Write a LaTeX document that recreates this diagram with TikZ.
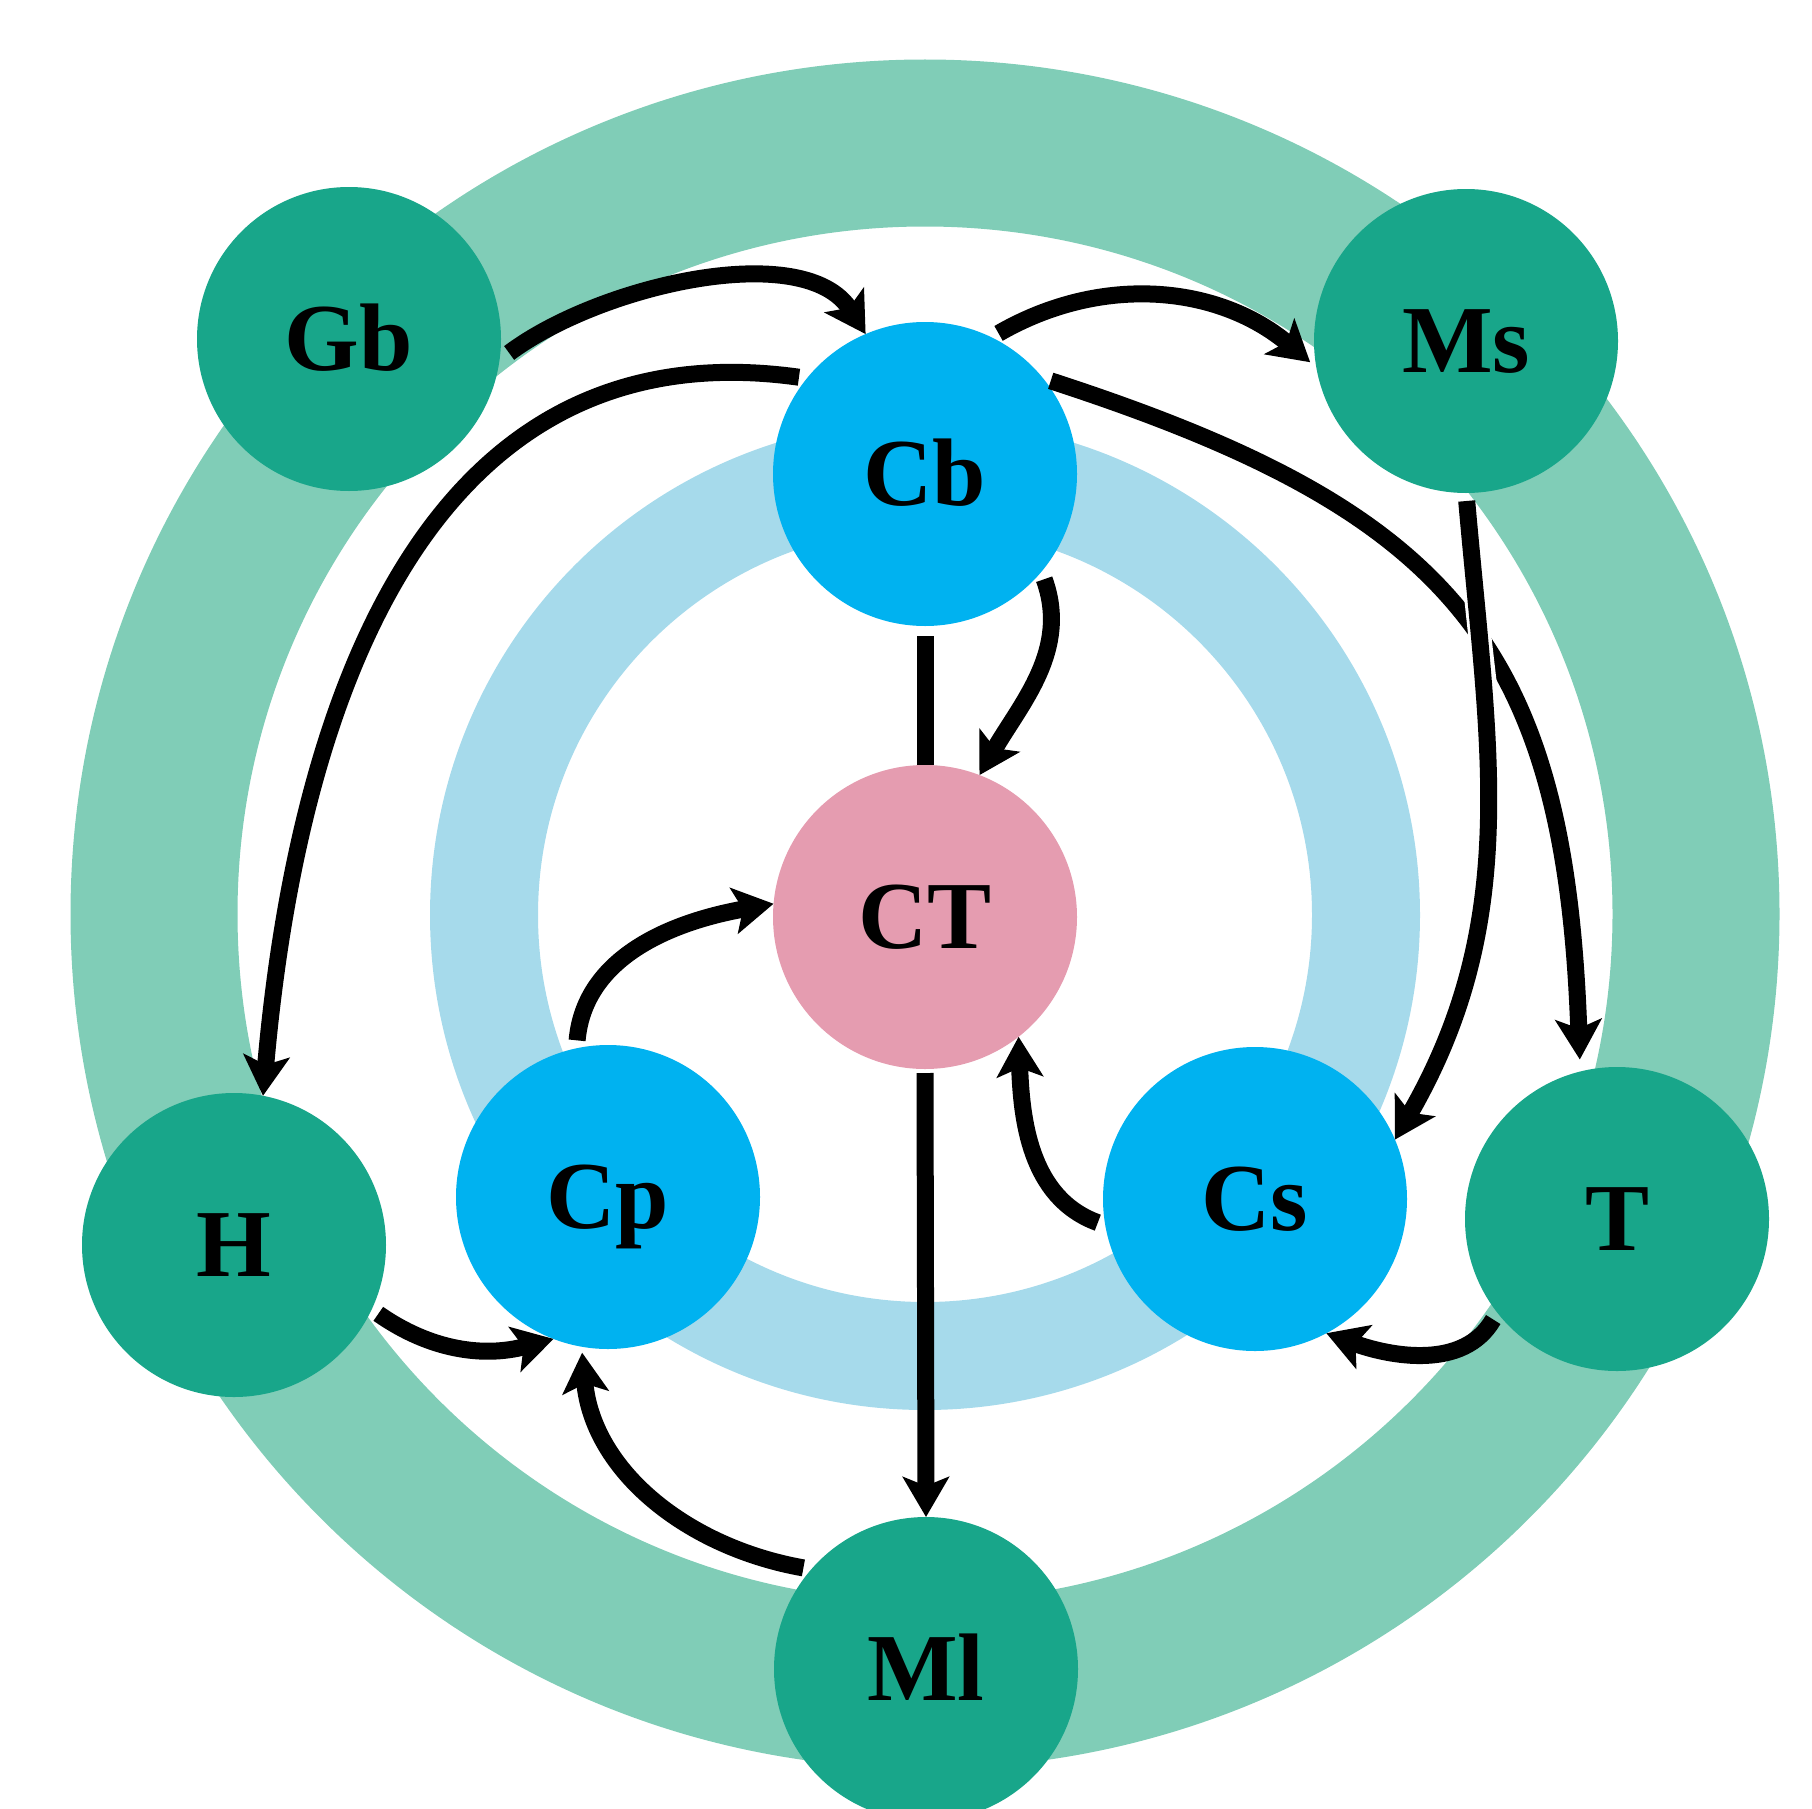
\documentclass[tikz,border=0pt]{standalone}
\usepackage{fontspec}
\setmainfont{Liberation Serif}
\usetikzlibrary{arrows.meta}
\definecolor{dgreen}{HTML}{18A68A}
\definecolor{lgreen}{HTML}{80CDB7}
\definecolor{nblue}{HTML}{00B2F0}
\definecolor{lblue}{HTML}{A6DAEB}
\definecolor{npink}{HTML}{E59CB0}
\begin{document}
\begin{tikzpicture}[x=1pt,y=1pt,
  nd/.style={circle, minimum size=304pt, inner sep=0pt, outer sep=0pt,
    font=\fontsize{96}{96}\selectfont\bfseries, text height=63pt, text depth=0pt},
  gn/.style={nd, fill=dgreen},
  bn/.style={nd, fill=nblue},
  pn/.style={nd, fill=npink},
  arr/.style={line width=17pt, shorten <=8pt, -{Stealth[length=40pt,width=46pt,inset=9pt]}},
  ln/.style={line width=17pt}
]
\useasboundingbox (0,0) rectangle (1812,-1809);
\draw[lgreen, line width=167pt] (925,-914) circle[radius=771pt];
\draw[lblue, line width=108pt] (925,-915) circle[radius=441pt];

\node[gn] (Gb) at (349,-339) {Gb};
\node[gn] (Ms) at (1466,-341) {Ms};
\node[bn] (Cb) at (925,-474) {Cb};
\node[pn] (CT) at (925,-917) {CT};
\node[bn] (Cp) at (608,-1197) {Cp};
\node[bn] (Cs) at (1255,-1199) {Cs};
\node[gn] (H) at (234,-1245) {H};
\node[gn] (T) at (1617,-1219) {T};
\node[gn] (Ml) at (926,-1669) {Ml};

\draw[arr, shorten <=12pt] (Gb.-8) .. controls (600,-285) and (805,-238) .. (Cb.113);
\draw[arr, shorten >=8pt] (Cb.64) to[out=30,in=140] (Ms.190);
\draw[arr] (Cb.141) to[out=172,in=85,looseness=1.1] (H.79);
\draw[arr, shorten >=12pt] (Cb.39) to[out=-18,in=92,looseness=1.25] (T.104);
\draw[white, line width=23pt, shorten <=40pt, shorten >=220pt] (Ms.-90) to[out=-85,in=60] (Cs.23);
\draw[arr] (Ms.-90) to[out=-85,in=60] (Cs.23);
\draw[arr] (Cb.-40) to[out=-70,in=60] (CT.69);
\draw[ln, shorten <=10pt] (Cb.south) -- (CT.north);
\draw[arr, shorten <=4pt] (CT.south) -- (Ml.north);
\draw[arr] (Cp.102) to[out=85,in=190] (CT.175);
\draw[arr] (Cs.-170) to[out=160,in=-88] (CT.-52);
\draw[arr] (H.-25) to[out=-35,in=195] (Cp.-111);
\draw[arr, shorten >=6pt] (Ml.139) to[out=170,in=-85] (Cp.-100);
\draw[arr] (T.-142) to[out=-120,in=-20] (Cs.-62);
\end{tikzpicture}
\end{document}
